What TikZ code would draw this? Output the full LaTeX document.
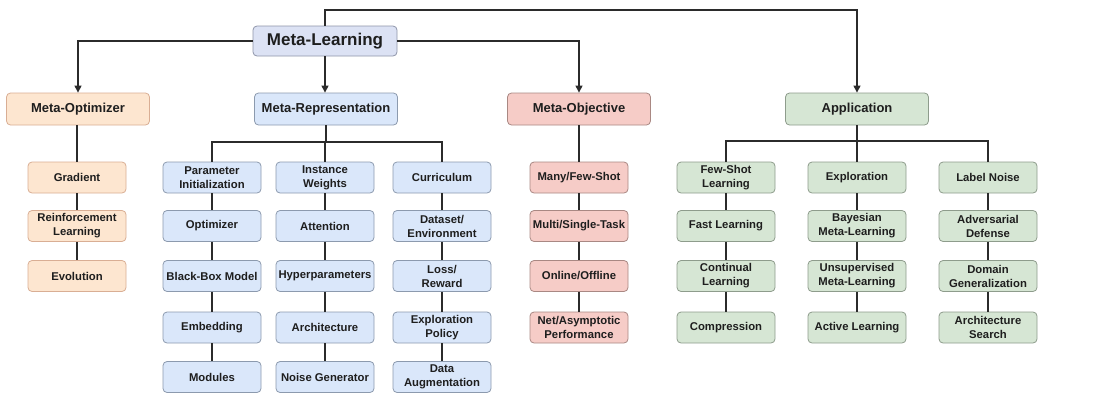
\documentclass[tikz,border=0pt]{standalone}
\usepackage{fontspec}
\setmainfont{Liberation Sans}
\usetikzlibrary{arrows.meta}
\definecolor{orgF}{HTML}{FDE6D0}
\definecolor{orgD}{HTML}{D9AE94}
\definecolor{bluF}{HTML}{DAE7FA}
\definecolor{bluD}{HTML}{8C9AAE}
\definecolor{redF}{HTML}{F6CCC7}
\definecolor{redD}{HTML}{A98883}
\definecolor{grnF}{HTML}{D6E6D4}
\definecolor{grnD}{HTML}{8E9C8C}
\definecolor{topF}{HTML}{DCE2F4}
\definecolor{topD}{HTML}{8E94A8}
\definecolor{lineC}{HTML}{2B2B2B}
\definecolor{txtC}{HTML}{1E1E1E}
\tikzset{
  box/.style={draw, rounded corners=4pt, line width=0.8pt, align=center, inner sep=0pt, text=txtC,
    font=\fontsize{11.3}{14}\selectfont\bfseries},
  lthree/.style={box, minimum width=98pt, minimum height=31pt},
  ltwo/.style={box, minimum width=143pt, minimum height=32pt, font=\fontsize{13}{16}\selectfont\bfseries},
  lone/.style={box, minimum width=144pt, minimum height=30pt, font=\fontsize{17}{20}\selectfont\bfseries},
  org/.style={fill=orgF, draw=orgD},
  blu/.style={fill=bluF, draw=bluD},
  red/.style={fill=redF, draw=redD},
  grn/.style={fill=grnF, draw=grnD},
  conn/.style={draw=lineC, line width=1.1pt},
  arr/.style={conn, -{Triangle[length=7pt,width=7pt]}},
}
\begin{document}
\begin{tikzpicture}[x=1pt,y=-1pt]
\useasboundingbox (0,0) rectangle (1101,413);
% level 1
\node[lone, fill=topF, draw=topD] (ML) at (325,41) {Meta-Learning};
% level 2
\node[ltwo, org] (MO) at (78,109) {Meta-Optimizer};
\node[ltwo, blu] (MR) at (326,109) {Meta-Representation};
\node[ltwo, red] (MOb) at (579,109) {Meta-Objective};
\node[ltwo, grn] (AP) at (857,109) {Application};
% Meta-Optimizer column
\node[lthree, org] (g1) at (77,177.5) {Gradient};
\node[lthree, org] (g2) at (77,226) {Reinforcement\\Learning};
\node[lthree, org] (g3) at (77,276) {Evolution};
% Meta-Representation columns
\node[lthree, blu] (a1) at (212,177.5) {Parameter\\Initialization};
\node[lthree, blu] (a2) at (212,226) {Optimizer};
\node[lthree, blu] (a3) at (212,276) {Black-Box Model};
\node[lthree, blu] (a4) at (212,327.5) {Embedding};
\node[lthree, blu] (a5) at (212,377) {Modules};
\node[lthree, blu] (b1) at (325,177.5) {Instance\\Weights};
\node[lthree, blu] (b2) at (325,226) {Attention};
\node[lthree, blu] (b3) at (325,276) {Hyperparameters};
\node[lthree, blu] (b4) at (325,327.5) {Architecture};
\node[lthree, blu] (b5) at (325,377) {Noise Generator};
\node[lthree, blu] (c1) at (442,177.5) {Curriculum};
\node[lthree, blu] (c2) at (442,226) {Dataset/\\Environment};
\node[lthree, blu] (c3) at (442,276) {Loss/\\Reward};
\node[lthree, blu] (c4) at (442,327.5) {Exploration\\Policy};
\node[lthree, blu] (c5) at (442,377) {Data\\Augmentation};
% Meta-Objective column
\node[lthree, red] (o1) at (579,177.5) {Many/Few-Shot};
\node[lthree, red] (o2) at (579,226) {Multi/Single-Task};
\node[lthree, red] (o3) at (579,276) {Online/Offline};
\node[lthree, red] (o4) at (579,327.5) {Net/Asymptotic\\Performance};
% Application columns
\node[lthree, grn] (d1) at (726,177.5) {Few-Shot\\Learning};
\node[lthree, grn] (d2) at (726,226) {Fast Learning};
\node[lthree, grn] (d3) at (726,276) {Continual\\Learning};
\node[lthree, grn] (d4) at (726,327.5) {Compression};
\node[lthree, grn] (e1) at (857,177.5) {Exploration};
\node[lthree, grn] (e2) at (857,226) {Bayesian\\Meta-Learning};
\node[lthree, grn] (e3) at (857,276) {Unsupervised\\Meta-Learning};
\node[lthree, grn] (e4) at (857,327.5) {Active Learning};
\node[lthree, grn] (f1) at (988,177.5) {Label Noise};
\node[lthree, grn] (f2) at (988,226) {Adversarial\\Defense};
\node[lthree, grn] (f3) at (988,276) {Domain\\Generalization};
\node[lthree, grn] (f4) at (988,327.5) {Architecture\\Search};
% top level arrows
\coordinate (topturn) at (857,10);
\draw[arr] (ML.north) |- (topturn) -- (AP.north);
\draw[arr] (ML.west) -| (MO.north);
\draw[arr] (ML.south) -- (MR.north -| ML.south);
\draw[arr] (ML.east) -| (MOb.north);
% level 2 to level 3
\coordinate (mrbar) at (326,142);
\coordinate (apbar) at (857,141);
\draw[conn] (MO.south -| g1.north) -- (g1.north);
\draw[conn] (MR.south) -- (mrbar);
\draw[conn] (a1.north) |- (mrbar) -| (c1.north);
\draw[conn] (mrbar -| b1.north) -- (b1.north);
\draw[conn] (MOb.south -| o1.north) -- (o1.north);
\draw[conn] (AP.south) -- (apbar);
\draw[conn] (d1.north) |- (apbar) -| (f1.north);
\draw[conn] (apbar -| e1.north) -- (e1.north);
% columns
\draw[conn] (g1) -- (g2) -- (g3);
\draw[conn] (a1) -- (a2) -- (a3) -- (a4) -- (a5);
\draw[conn] (b1) -- (b2) -- (b3) -- (b4) -- (b5);
\draw[conn] (c1) -- (c2) -- (c3) -- (c4) -- (c5);
\draw[conn] (o1) -- (o2) -- (o3) -- (o4);
\draw[conn] (d1) -- (d2) -- (d3) -- (d4);
\draw[conn] (e1) -- (e2) -- (e3) -- (e4);
\draw[conn] (f1) -- (f2) -- (f3) -- (f4);
\end{tikzpicture}
\end{document}
